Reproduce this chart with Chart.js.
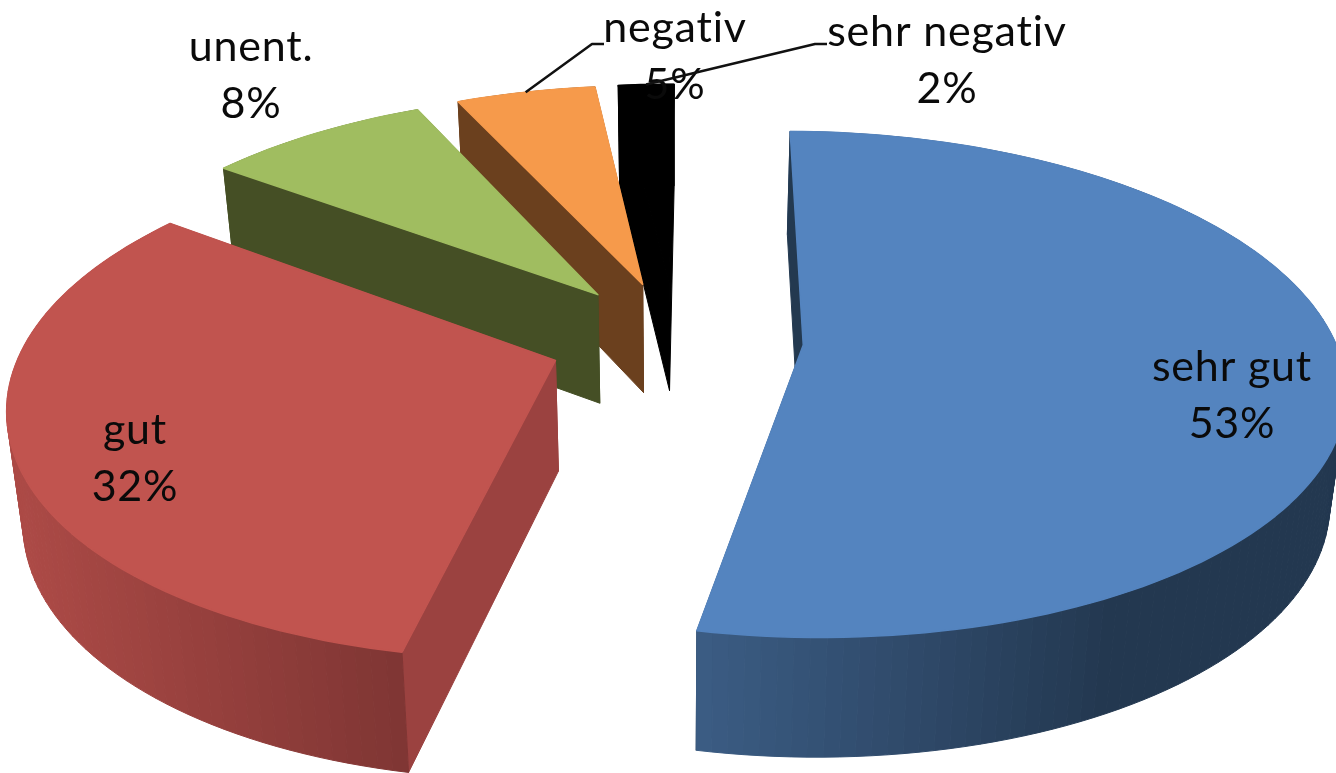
<!DOCTYPE html>
<html lang="de">
<head>
<meta charset="utf-8">
<title>Bewertung</title>
<script src="https://cdn.jsdelivr.net/npm/chart.js@4/dist/chart.umd.min.js"></script>
<style>
  html, body { margin: 0; padding: 0; background: #fff; overflow: hidden; }
  canvas { display: block; }
</style>
</head>
<body>
<canvas id="chart-bewertung" width="1336" height="773"></canvas>
<script>
  'use strict';

  var categories = ['sehr gut', 'gut', 'unent.', 'negativ', 'sehr negativ'];
  var values = [53, 32, 8, 5, 2];

  var topColors = ['#5484BF', '#C1544F', '#A0BD60', '#F69A4B', '#000000'];
  var cutColors = ['#233950', '#9B4240', '#454F25', '#6B401E', '#000000'];
  // Rim shading, left to right across the picture
  var rimLeftColors = [[60, 93, 133], [172, 74, 70], [69, 79, 37], [107, 64, 30], [0, 0, 0]];
  var rimRightColors = [[35, 56, 80], [128, 54, 52], [69, 79, 37], [107, 64, 30], [0, 0, 0]];
  // Back-to-front order for painting the wedges
  var paintOrder = [4, 3, 2, 1, 0];

  // Label anchors (centre of the first text line)
  var labelX = [1232, 135, 251, 675, 947];
  var labelY = [367, 430, 47, 28, 32];
  var leaderTargets = [null, null, null, [604, 44], [827, 44]];

  // Ground plane seen from above, with some perspective
  var explode = 0.24;
  var view = { cx: 676, cy: 339, rx: 531, ry: 245, k: 0.155, floorDrop: 110, floorRx: 518, floorRy: 253, frontShift: 6 };

  function project(nx, ny, onFloor) {
    var s = 1 / (1 - view.k * ny);
    var shift = ny > 0 ? view.frontShift * ny * ny : 0;
    if (onFloor) {
      return { x: view.cx - shift + view.floorRx * nx * s, y: view.cy + view.floorDrop + view.floorRy * ny * s };
    }
    return { x: view.cx - shift + view.rx * nx * s, y: view.cy + view.ry * ny * s };
  }

  function quad(ctx, a, b, c, d, color) {
    ctx.fillStyle = color;
    ctx.strokeStyle = color;
    ctx.lineWidth = 1;
    ctx.beginPath();
    ctx.moveTo(a.x, a.y);
    ctx.lineTo(b.x, b.y);
    ctx.lineTo(c.x, c.y);
    ctx.lineTo(d.x, d.y);
    ctx.closePath();
    ctx.fill();
    ctx.stroke();
  }

  function rimColor(i, x) {
    var t = Math.min(1, Math.max(0, x < view.cx ? (x - 20) / 380 : (x - 700) / 420));
    var l = rimLeftColors[i];
    var r = rimRightColors[i];
    return 'rgb(' + Math.round(l[0] + (r[0] - l[0]) * t) + ',' +
      Math.round(l[1] + (r[1] - l[1]) * t) + ',' +
      Math.round(l[2] + (r[2] - l[2]) * t) + ')';
  }

  function wedgePoints(arc) {
    var start = arc.startAngle;
    var end = arc.endAngle;
    var mid = (start + end) / 2;
    var ox = Math.cos(mid) * explode;
    var oy = Math.sin(mid) * explode;
    var steps = Math.max(4, Math.ceil((end - start) / (Math.PI / 120)));
    var rim = [];
    for (var n = 0; n <= steps; n++) {
      var a = start + (end - start) * n / steps;
      rim.push({ nx: ox + Math.cos(a), ny: oy + Math.sin(a) });
    }
    return { ox: ox, oy: oy, rim: rim };
  }

  function drawWedge(ctx, arc, i) {
    var w = wedgePoints(arc);
    var rim = w.rim;
    var faces = [];

    function addWall(p, q, color) {
      faces.push({
        depth: (p.ny + q.ny) / 2,
        a: project(p.nx, p.ny, false),
        b: project(q.nx, q.ny, false),
        c: project(q.nx, q.ny, true),
        d: project(p.nx, p.ny, true),
        color: color
      });
    }

    var apex = { nx: w.ox, ny: w.oy };
    addWall(apex, rim[0], cutColors[i]);
    addWall(apex, rim[rim.length - 1], cutColors[i]);
    for (var n = 0; n < rim.length - 1; n++) {
      var x = project(rim[n].nx, rim[n].ny, false).x;
      addWall(rim[n], rim[n + 1], rimColor(i, x));
    }
    faces.sort(function (p, q) { return p.depth - q.depth; });
    faces.forEach(function (f) { quad(ctx, f.a, f.b, f.c, f.d, f.color); });

    // Top face, stroked in its own colour to hide the wall edges behind it
    var top = project(apex.nx, apex.ny, false);
    ctx.fillStyle = topColors[i];
    ctx.strokeStyle = topColors[i];
    ctx.lineWidth = 1.5;
    ctx.beginPath();
    ctx.moveTo(top.x, top.y);
    rim.forEach(function (p) {
      var q = project(p.nx, p.ny, false);
      ctx.lineTo(q.x, q.y);
    });
    ctx.closePath();
    ctx.fill();
    ctx.stroke();
  }

  function drawLabels(chart, ctx) {
    var total = values.reduce(function (s, v) { return s + v; }, 0);
    var arcs = chart.getDatasetMeta(0).data;
    ctx.textAlign = 'center';
    ctx.textBaseline = 'middle';
    ctx.font = '400 43px Lato, "Open Sans", sans-serif';
    ctx.letterSpacing = '0.8px';
    categories.forEach(function (name, i) {
      var target = leaderTargets[i];
      if (target) {
        var arc = arcs[i].getProps(['startAngle', 'endAngle'], true);
        var mid = (arc.startAngle + arc.endAngle) / 2;
        var from = project(Math.cos(mid) * (1 + explode), Math.sin(mid) * (1 + explode), false);
        ctx.strokeStyle = '#111';
        ctx.lineWidth = 2.5;
        ctx.beginPath();
        ctx.moveTo(from.x, from.y);
        ctx.lineTo(target[0] - 12, target[1]);
        ctx.lineTo(target[0], target[1]);
        ctx.stroke();
      }
      ctx.fillStyle = '#0a0a0a';
      ctx.fillText(name, labelX[i], labelY[i]);
      ctx.fillText(Math.round(values[i] / total * 100) + '%', labelX[i], labelY[i] + 57);
    });
  }

  var pie3dPlugin = {
    id: 'pie3d',
    beforeDatasetsDraw: function (chart) {
      var ctx = chart.ctx;
      var arcs = chart.getDatasetMeta(0).data;
      ctx.save();
      ctx.lineJoin = 'round';
      paintOrder.forEach(function (i) {
        drawWedge(ctx, arcs[i].getProps(['startAngle', 'endAngle'], true), i);
      });
      drawLabels(chart, ctx);
      ctx.restore();
      return false;
    }
  };

  new Chart(document.getElementById('chart-bewertung'), {
    type: 'pie',
    data: {
      labels: categories,
      datasets: [{ data: values, backgroundColor: topColors, borderWidth: 0 }]
    },
    options: {
      responsive: false,
      animation: false,
      events: [],
      rotation: 0.5,
      plugins: {
        legend: { display: false },
        title: { display: false },
        tooltip: { enabled: false }
      }
    },
    plugins: [pie3dPlugin]
  });
</script>
</body>
</html>
